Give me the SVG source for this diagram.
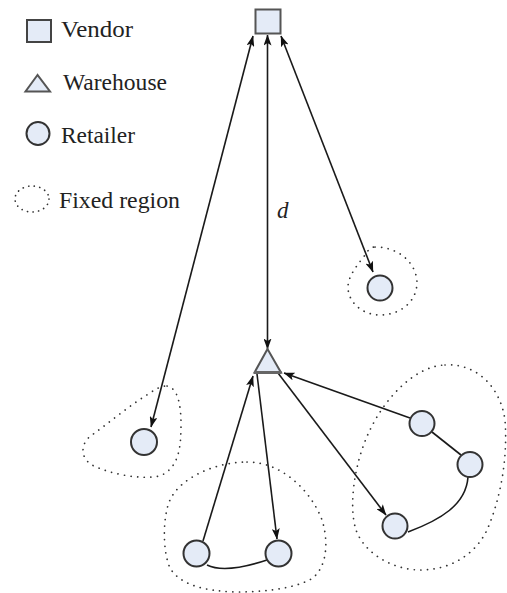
<svg xmlns="http://www.w3.org/2000/svg" width="507" height="593" viewBox="0 0 507 593">
  <style>
    .node { fill: #e4ebf7; stroke: #333; stroke-width: 2; }
    .tri { fill: #e4ebf7; stroke: #555; stroke-width: 2; stroke-linejoin: miter; }
    .edge { fill: none; stroke: #1a1a1a; stroke-width: 1.6; }
    .region { fill: none; stroke: #333; stroke-width: 1.7; stroke-dasharray: 0.1 6.5; stroke-linecap: round; }
    .label { font-family: "Liberation Serif", "Times New Roman", serif; font-size: 23px; fill: #222; }
  </style>
  <defs>
    <marker id="arrow" viewBox="0 0 11 8" refX="10.5" refY="4" markerWidth="11" markerHeight="8" markerUnits="userSpaceOnUse" orient="auto-start-reverse">
      <path d="M0,0 L11,4 L0,8 L2.5,4 z" fill="#111"/>
    </marker>
  </defs>

  <!-- legend -->
  <g id="legend">
    <rect class="node" x="27" y="20" width="24" height="22" style="stroke:#444"/>
    <text class="label" x="61" y="37" textLength="72" lengthAdjust="spacingAndGlyphs">Vendor</text>
    <polygon class="tri" points="37.5,75 25.5,91.5 50,91.5"/>
    <text class="label" x="63" y="90" textLength="104" lengthAdjust="spacingAndGlyphs">Warehouse</text>
    <circle class="node" cx="38" cy="133.5" r="11.5"/>
    <text class="label" x="61" y="143" textLength="74" lengthAdjust="spacingAndGlyphs">Retailer</text>
    <ellipse class="region" cx="32" cy="199" rx="17" ry="13" style="stroke-dasharray:0.1 5.5"/>
    <text class="label" x="59" y="208" textLength="121" lengthAdjust="spacingAndGlyphs">Fixed region</text>
  </g>

  <!-- fixed regions -->
  <g id="regions">
    <path class="region" d="M375,247 C398,247 416,262 417,282 C417,302 400,315 380,315 C362,315 348,302 348,287 C348,275 360,262 365,255 C368,250 371,247 375,247 Z"/>
    <path class="region" d="M167,386 C178,388 181,405 181,425 C181,450 178,468 160,476 C140,480 110,474 92,465 C80,458 80,443 92,435 C110,422 130,405 150,393 C157,388 162,386 167,386 Z"/>
    <path class="region" d="M247,462 C285,462 313,495 322,520 C330,545 326,575 305,582 C285,590 260,592 235,592 C205,591 180,585 170,568 C162,550 163,515 170,500 C180,478 215,462 247,462 Z"/>
    <path class="region" d="M445,365 C475,363 500,385 505,420 C508,460 500,500 487,530 C475,555 450,570 420,570 C395,570 365,555 356,530 C348,505 355,460 370,430 C385,398 415,366 445,365 Z"/>
  </g>

  <!-- connectors -->
  <g id="connectors">
    <line class="edge" x1="253" y1="36" x2="151" y2="427" marker-start="url(#arrow)" marker-end="url(#arrow)"/>
    <line class="edge" x1="267.5" y1="35" x2="267.5" y2="349" marker-start="url(#arrow)" marker-end="url(#arrow)"/>
    <line class="edge" x1="281" y1="36" x2="373" y2="272" marker-start="url(#arrow)" marker-end="url(#arrow)"/>
    <line class="edge" x1="203" y1="541" x2="253" y2="376" marker-end="url(#arrow)"/>
    <line class="edge" x1="257" y1="374" x2="277" y2="539" marker-end="url(#arrow)"/>
    <line class="edge" x1="410" y1="418" x2="284" y2="373" marker-end="url(#arrow)"/>
    <line class="edge" x1="278" y1="373" x2="386" y2="515" marker-end="url(#arrow)"/>
    <line class="edge" x1="432" y1="432" x2="461" y2="455"/>
    <path class="edge" d="M468,477 C466,505 440,520 408,532"/>
    <path class="edge" d="M207,565 Q225,574 267,560"/>
    <text class="label" x="277" y="218" style="font-style:italic">d</text>
  </g>

  <!-- vendor -->
  <g id="vendor">
    <rect class="node" x="255.5" y="9.5" width="25" height="24" style="stroke:#555"/>
  </g>

  <!-- warehouse -->
  <g id="warehouse">
    <polygon class="tri" points="267.5,349 254.5,372.5 281,372.5"/>
    <line x1="254" y1="372.5" x2="281.5" y2="372.5" stroke="#666" stroke-width="3"/>
  </g>

  <!-- retailers -->
  <g id="retailer-r1"><circle class="node" cx="380" cy="288" r="12.5"/></g>
  <g id="retailer-r2"><circle class="node" cx="144" cy="442" r="13"/></g>
  <g id="retailer-a"><circle class="node" cx="196.5" cy="553.5" r="13"/></g>
  <g id="retailer-b"><circle class="node" cx="278.5" cy="553.5" r="13"/></g>
  <g id="retailer-c"><circle class="node" cx="422" cy="423.5" r="12.5"/></g>
  <g id="retailer-d"><circle class="node" cx="470" cy="464.5" r="12.5"/></g>
  <g id="retailer-e"><circle class="node" cx="395" cy="526" r="12.5"/></g>
</svg>
